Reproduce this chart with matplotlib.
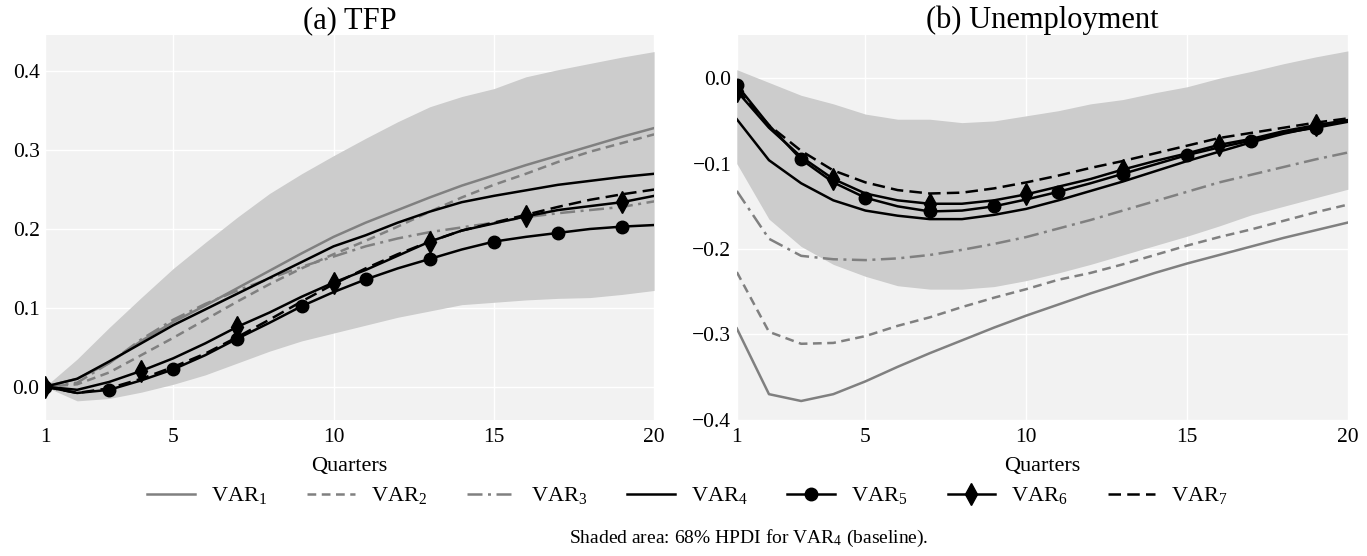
import matplotlib
matplotlib.use("Agg")
import matplotlib.pyplot as plt
import numpy as np

plt.rcParams['font.family'] = ['Liberation Serif', 'DejaVu Serif']
plt.rcParams['mathtext.fontset'] = 'custom'
plt.rcParams['mathtext.rm'] = 'Liberation Serif'
plt.rcParams['mathtext.it'] = 'Liberation Serif:italic'
plt.rcParams['axes.unicode_minus'] = True

quarters = list(range(1, 21))

# ---- (a) TFP ----
tfp_band_upper = [0.0, 0.035, 0.075, 0.113, 0.150, 0.183, 0.215, 0.245, 0.270, 0.293,
                  0.315, 0.336, 0.355, 0.368, 0.378, 0.393, 0.402, 0.410, 0.418, 0.425]
tfp_band_lower = [0.0, -0.018, -0.015, -0.007, 0.003, 0.015, 0.030, 0.045, 0.058, 0.068,
                  0.078, 0.088, 0.096, 0.104, 0.107, 0.110, 0.112, 0.113, 0.117, 0.122]
tfp_var1 = [0.0, 0.010, 0.030, 0.058, 0.082, 0.103, 0.125, 0.147, 0.169, 0.190,
            0.208, 0.224, 0.240, 0.255, 0.268, 0.281, 0.293, 0.305, 0.317, 0.328]
tfp_var2 = [0.0, 0.003, 0.018, 0.040, 0.062, 0.085, 0.108, 0.130, 0.150, 0.168,
            0.185, 0.203, 0.222, 0.240, 0.256, 0.270, 0.285, 0.298, 0.309, 0.320]
tfp_var3 = [0.0, 0.005, 0.030, 0.060, 0.085, 0.105, 0.122, 0.137, 0.152, 0.165,
            0.178, 0.188, 0.196, 0.202, 0.208, 0.215, 0.220, 0.224, 0.228, 0.235]
tfp_var4 = [0.0, 0.010, 0.032, 0.055, 0.078, 0.098, 0.118, 0.138, 0.158, 0.178,
            0.192, 0.208, 0.222, 0.234, 0.242, 0.249, 0.256, 0.261, 0.266, 0.270]
tfp_var5 = [0.0, -0.008, -0.004, 0.008, 0.022, 0.040, 0.061, 0.081, 0.102, 0.120,
            0.136, 0.150, 0.162, 0.174, 0.184, 0.190, 0.195, 0.200, 0.203, 0.205]
tfp_var6 = [0.0, -0.004, 0.006, 0.020, 0.036, 0.055, 0.076, 0.094, 0.114, 0.132,
            0.148, 0.166, 0.184, 0.198, 0.207, 0.216, 0.224, 0.229, 0.234, 0.242]
tfp_var7 = [0.0, -0.008, -0.002, 0.010, 0.025, 0.042, 0.063, 0.085, 0.108, 0.130,
            0.150, 0.168, 0.184, 0.198, 0.208, 0.218, 0.228, 0.237, 0.244, 0.250]

# ---- (b) Unemployment ----
un_band_upper = [0.010, -0.005, -0.020, -0.030, -0.042, -0.048, -0.048, -0.052, -0.050, -0.044,
                 -0.038, -0.030, -0.025, -0.017, -0.010, 0.000, 0.008, 0.017, 0.025, 0.032]
un_band_lower = [-0.100, -0.165, -0.197, -0.218, -0.232, -0.243, -0.247, -0.247, -0.244, -0.237,
                 -0.228, -0.218, -0.207, -0.196, -0.185, -0.173, -0.160, -0.150, -0.140, -0.130]
un_var1 = [-0.293, -0.370, -0.378, -0.370, -0.355, -0.338, -0.322, -0.307, -0.292, -0.278,
           -0.265, -0.252, -0.240, -0.228, -0.217, -0.207, -0.197, -0.187, -0.178, -0.169]
un_var2 = [-0.227, -0.297, -0.311, -0.310, -0.302, -0.290, -0.280, -0.268, -0.257, -0.247,
           -0.236, -0.228, -0.218, -0.207, -0.196, -0.186, -0.177, -0.167, -0.157, -0.148]
un_var3 = [-0.132, -0.188, -0.208, -0.212, -0.213, -0.211, -0.207, -0.201, -0.194, -0.186,
           -0.176, -0.166, -0.155, -0.144, -0.133, -0.122, -0.113, -0.104, -0.095, -0.087]
un_var4 = [-0.048, -0.096, -0.123, -0.143, -0.155, -0.161, -0.165, -0.165, -0.160, -0.153,
           -0.143, -0.132, -0.121, -0.109, -0.097, -0.086, -0.075, -0.065, -0.057, -0.050]
un_var5 = [-0.008, -0.055, -0.095, -0.122, -0.140, -0.150, -0.156, -0.155, -0.150, -0.142,
           -0.133, -0.123, -0.112, -0.101, -0.090, -0.081, -0.073, -0.064, -0.058, -0.051]
un_var6 = [-0.015, -0.058, -0.092, -0.118, -0.135, -0.143, -0.147, -0.147, -0.143, -0.136,
           -0.127, -0.118, -0.107, -0.097, -0.088, -0.078, -0.071, -0.062, -0.055, -0.049]
un_var7 = [-0.013, -0.055, -0.085, -0.108, -0.122, -0.131, -0.135, -0.134, -0.129, -0.122,
           -0.114, -0.105, -0.097, -0.088, -0.079, -0.070, -0.064, -0.058, -0.052, -0.047]

series_labels = ["VAR$_1$", "VAR$_2$", "VAR$_3$", "VAR$_4$", "VAR$_5$", "VAR$_6$", "VAR$_7$"]
panel_titles = ["(a) TFP", "(b) Unemployment"]
xticks = [1, 5, 10, 15, 20]

GRAY = '#808080'
styles = [
    dict(color=GRAY, ls='-', lw=1.8),
    dict(color=GRAY, ls=(0, (3.5, 2.2)), lw=1.8),
    dict(color=GRAY, ls=(0, (6, 2.2, 1.2, 2.2)), lw=1.8),
    dict(color='black', ls='-', lw=1.8),
    dict(color='black', ls='-', lw=1.8, marker='o', ms=9, markevery=2),
    dict(color='black', ls='-', lw=1.8, marker='d', ms=11, markevery=3),
    dict(color='black', ls=(0, (5, 2.5)), lw=1.8),
]

fig = plt.figure(figsize=(13.67, 5.56), dpi=100)
ax1 = fig.add_axes([0.033, 0.245, 0.4455, 0.692])
ax2 = fig.add_axes([0.539, 0.245, 0.447, 0.692])

panels = [
    (ax1, tfp_band_lower, tfp_band_upper,
     [tfp_var1, tfp_var2, tfp_var3, tfp_var4, tfp_var5, tfp_var6, tfp_var7],
     (-0.042, 0.446), [0.0, 0.1, 0.2, 0.3, 0.4]),
    (ax2, un_band_lower, un_band_upper,
     [un_var1, un_var2, un_var3, un_var4, un_var5, un_var6, un_var7],
     (-0.4, 0.0506), [-0.4, -0.3, -0.2, -0.1, 0.0]),
]

handles = []
for i, (ax, lo, hi, series, ylim, yticks) in enumerate(panels):
    ax.set_facecolor('#f2f2f2')
    ax.fill_between(quarters, lo, hi, color='#cccccc', lw=0, zorder=1)
    hs = []
    for s, st, lab in zip(series, styles, series_labels):
        h, = ax.plot(quarters, s, label=lab, zorder=3, **st)
        hs.append(h)
    if i == 0:
        handles = hs
    ax.set_xlim(1, 20)
    ax.set_ylim(*ylim)
    ax.set_xticks(xticks)
    ax.set_yticks(yticks)
    ax.set_yticklabels([f"{v:.1f}".replace('-', '\u2212') for v in yticks])
    ax.grid(True, color='white', lw=1.0, zorder=0)
    ax.set_axisbelow(True)
    for sp in ax.spines.values():
        sp.set_visible(False)
    ax.tick_params(axis='y', length=0, labelsize=15.5, pad=4)
    ax.tick_params(axis='x', length=0, labelsize=15.5, pad=6)
    ax.set_title(panel_titles[i], fontsize=22, pad=3)
    ax.set_xlabel("Quarters", fontsize=16, labelpad=7)

fig.legend(handles, series_labels, loc='center', bbox_to_anchor=(0.503, 0.108),
           ncol=7, frameon=False, fontsize=16, handlelength=2.15,
           handletextpad=0.72, columnspacing=1.8)

fig.text(0.548, 0.032, "Shaded area: 68% HPDI for VAR$_4$ (baseline).",
         ha='center', va='center', fontsize=14)

fig.savefig("out.png", dpi=100)
